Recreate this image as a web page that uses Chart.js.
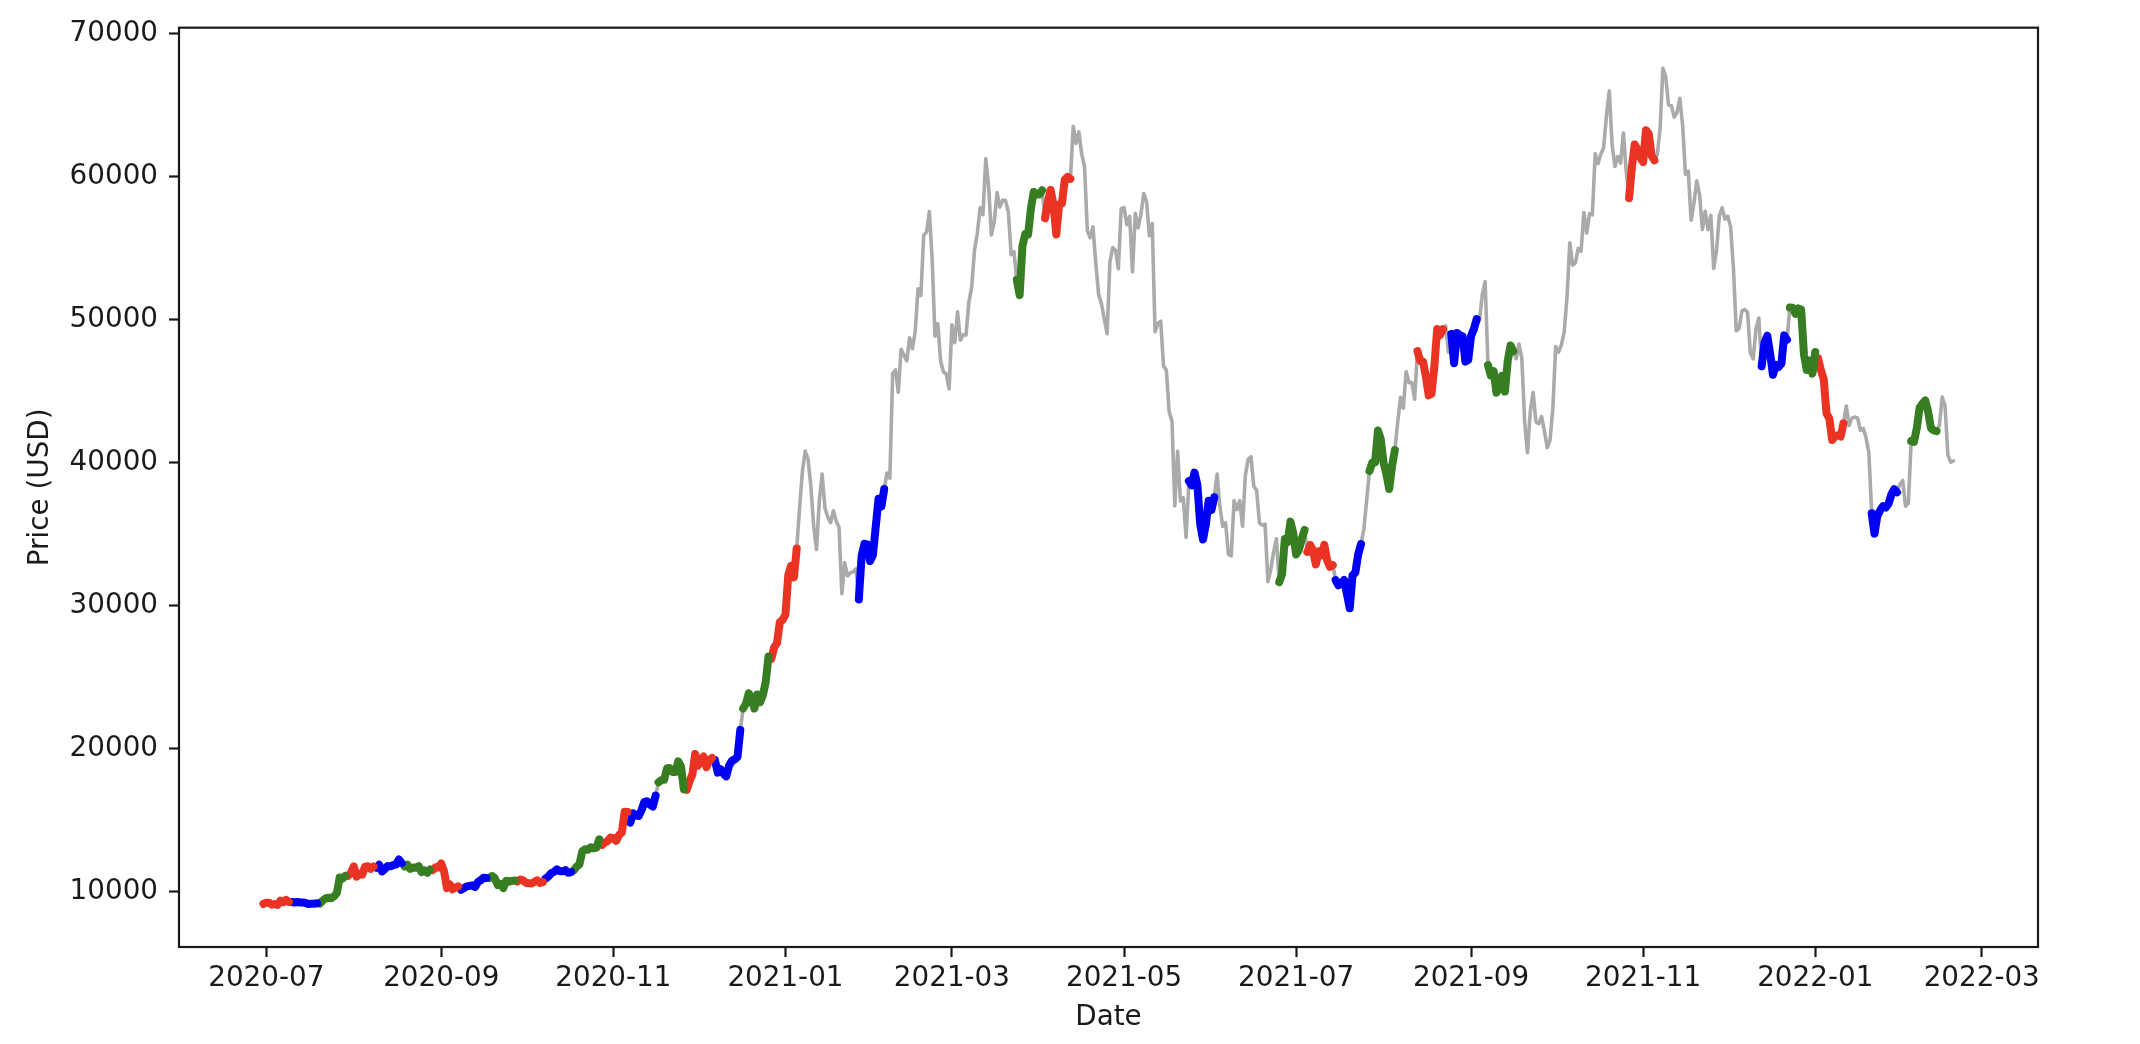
<!DOCTYPE html>
<html>
<head>
<meta charset="utf-8">
<title>Price (USD)</title>
<script src="https://cdn.jsdelivr.net/npm/chart.js@4.4.0/dist/chart.umd.min.js"></script>
<style>
  html, body { margin: 0; padding: 0; background: #fff; }
  #chart { display: block; }
</style>
</head>
<body>
<canvas id="chart" width="2140" height="1044"></canvas>
<script>
// daily closing price, one value per day from startDate
const startDate = '2020-06-30';
const prices = [
  9137,
  // 2020-07
  9228, 9232, 9087, 9132, 9073, 9375, 9252, 9428, 9277, 9278, 9240, 9277, 9243, 9244, 9192, 9132,
  9151, 9159, 9186, 9165, 9375, 9525, 9581, 9536, 9677, 9905, 10991, 10912, 11100, 11112, 11323,
  // 2020-08
  11759, 11053, 11247, 11191, 11747, 11779, 11601, 11754, 11675, 11878, 11410, 11584, 11784, 11768, 11865, 11892,
  12254, 11991, 11758, 11878, 11592, 11681, 11664, 11774, 11366, 11488, 11324, 11542, 11506, 11711, 11680,
  // 2020-09
  11970, 11414, 10246, 10511, 10169, 10280, 10369, 10131, 10242, 10364, 10400, 10442, 10323, 10680, 10796,
  10974, 10948, 10944, 11094, 10938, 10462, 10538, 10246, 10760, 10692, 10750, 10776, 10709, 10844, 10784,
  // 2020-10
  10620, 10585, 10565, 10680, 10797, 10603, 10668, 10916, 11065, 11297, 11385, 11556, 11426, 11429, 11506, 11320,
  11361, 11504, 11751, 11917, 12824, 12965, 12931, 13108, 13031, 13076, 13654, 13271, 13437, 13546, 13781,
  // 2020-11
  13737, 13550, 13950, 14133, 15579, 15565, 14818, 15479, 15332, 15290, 15701, 16276, 16317, 16068, 15955,
  16716, 17645, 17804, 17817, 18621, 18642, 18370, 18364, 19107, 18733, 17150, 17108, 17717, 18177, 19625,
  // 2020-12
  18802, 19201, 19445, 18699, 19154, 19345, 19191, 18321, 18553, 18264, 18058, 18803, 19142, 19246, 19417, 21310,
  22805, 23137, 23869, 23477, 22803, 23783, 23241, 23735, 24664, 26437, 26272, 27084, 27362, 28841, 29002,
  // 2021-01
  29374, 32127, 32782, 31971, 33992, 36824, 39371, 40797, 40254, 38357, 35566, 33923, 37316, 39187, 36825, 36178,
  35792, 36631, 35891, 35468, 30825, 33005, 32067, 32289, 32366, 32569, 30432, 33467, 34316, 34269, 33115,
  // 2021-02
  33537, 35510, 37473, 36926, 38144, 39266, 38903, 46196, 46481, 44919, 47909, 47504, 47105, 48718,
  47945, 49200, 52149, 51679, 55888, 56100, 57539, 54207, 48825, 49705, 47093, 46339, 46188, 45138,
  // 2021-03
  49631, 48378, 50538, 48561, 48927, 48912, 51206, 52246, 54824, 56008, 57805, 57332, 61243, 59302, 55907, 56804,
  58870, 57858, 58346, 58313, 57524, 54529, 54738, 52774, 51704, 55137, 55974, 55947, 57750, 58918, 58730,
  // 2021-04
  58736, 59031, 57077, 58206, 59054, 58021, 55947, 58048, 58102, 59774, 59964, 59835, 63504, 62314, 63114,
  61572, 60684, 56217, 55725, 56473, 53907, 51763, 51094, 50050, 49004, 54022, 55033, 54824, 53556, 57750,
  // 2021-05
  57828, 56632, 57200, 53333, 57424, 56397, 57357, 58803, 58232, 55859, 56704, 49150, 49716, 49880, 46760, 46456,
  43538, 42910, 36964, 40784, 37305, 37536, 34770, 38705, 38402, 39294, 38436, 35697, 34616, 35678, 37333,
  // 2021-06
  36685, 37575, 39188, 36885, 35538, 35796, 33590, 33472, 37345, 36702, 37334, 35552, 39097, 40218, 40406,
  38347, 38053, 35787, 35615, 35698, 31676, 32505, 33723, 34662, 31637, 32187, 34649, 34434, 35867, 35040,
  // 2021-07
  33572, 33897, 34668, 35287, 33746, 34235, 33855, 32877, 33798, 33520, 34240, 33155, 32702, 32822, 31780, 31421,
  31533, 31796, 30817, 29807, 32110, 32313, 33581, 34292, 35350, 37337, 39406, 39995, 40008, 42236, 41626,
  // 2021-08
  39974, 39201, 38152, 39747, 40869, 42816, 44555, 43798, 46365, 45585, 45594, 44429, 47793, 47096, 47048, 45993,
  44696, 44802, 46717, 49339, 48906, 49321, 49546, 47707, 48993, 46942, 49058, 48903, 48830, 47054, 47166,
  // 2021-09
  48848, 49327, 50025, 49944, 51753, 52633, 46811, 46091, 46392, 44883, 45201, 46063, 44963, 47092, 48177,
  47783, 47267, 48279, 47260, 42843, 40694, 43574, 44895, 42840, 42716, 43208, 42236, 41034, 41564, 43791,
  // 2021-10
  48116, 47711, 48200, 49112, 51515, 55361, 53805, 53967, 54968, 54772, 57484, 56041, 57401, 57321, 61593, 60892,
  61553, 62026, 64262, 65992, 62210, 60692, 61393, 60937, 63039, 60363, 58483, 60622, 62228, 61888, 61318,
  // 2021-11
  61004, 63227, 62970, 61453, 61125, 61527, 63327, 67566, 66971, 64995, 64950, 64155, 64470, 65466, 63557,
  60162, 60369, 56943, 58119, 59697, 58730, 56289, 57570, 56280, 57275, 53570, 54816, 57248, 57807, 57005,
  // 2021-12
  57229, 56477, 53598, 49201, 49368, 50582, 50700, 50504, 47672, 47243, 49362, 50098, 46737, 48379, 48864, 47632,
  46131, 46834, 46681, 46914, 48890, 48588, 50838, 50820, 50399, 50775, 50701, 47544, 46465, 47120, 46217,
  // 2022-01
  47722, 47286, 46446, 45832, 43425, 43083, 41572, 41822, 41911, 41821, 42735, 43949, 42591, 43099, 43177, 43113,
  42250, 42375, 41744, 40680, 36458, 35030, 36276, 36654, 36954, 36852, 37138, 37784, 38138, 37917, 38483,
  // 2022-02
  38743, 36952, 37154, 41500, 41441, 42412, 43840, 44118, 44338, 43565, 42407, 42244, 42197, 42586, 44575,
  43961, 40538, 40030, 40122,
];

// highlighted 10-day windows, colours cycle red -> blue -> green
const segLength = 10;
const segStarts = [
  '2020-06-30', '2020-07-10', '2020-07-20', '2020-07-30', '2020-08-09', '2020-08-19',
  '2020-08-29', '2020-09-08', '2020-09-18', '2020-09-28', '2020-10-08', '2020-10-18',
  '2020-10-28', '2020-11-07', '2020-11-17', '2020-11-27', '2020-12-07', '2020-12-17',
  '2020-12-27', '2021-01-27', '2021-03-24', '2021-04-03', '2021-05-24', '2021-06-25',
  '2021-07-05', '2021-07-15', '2021-07-27', '2021-08-13', '2021-08-25', '2021-09-07',
  '2021-10-27', '2021-12-13', '2021-12-23', '2022-01-02', '2022-01-21', '2022-02-04',
];
const segKinds = ['red', 'blue', 'green'];

const xTickLabels = ['2020-07', '2020-09', '2020-11', '2021-01', '2021-03', '2021-05',
                     '2021-07', '2021-09', '2021-11', '2022-01', '2022-03'];
const yTicks = [10000, 20000, 30000, 40000, 50000, 60000, 70000];
const yMin = 6130;
const yMax = 70400;

const COLORS = {
  red:   '#ea3323',
  blue:  '#0000f5',
  green: '#377e22',
  base:  '#aaaaaa',
};
const INK  = '#1a1a1a';
const FONT = { family: 'DejaVu Sans', size: 27.8 };
const DAY  = 86400000;

function toMs(s) {
  const [y, m, d] = s.split('-').map(Number);
  return Date.UTC(y, m - 1, d);
}

const t0 = toMs(startDate);
const points = prices.map((p, i) => ({ x: t0 + i * DAY, y: p }));
const xSpan = (points.length - 1) * DAY;
const xMin = t0 - xSpan * 0.05;
const xMax = t0 + xSpan * 1.05;
const xTickValues = xTickLabels.map((l) => toMs(l + '-01'));

const datasets = [{
  label: 'Price',
  data: points,
  borderColor: COLORS.base,
  borderWidth: 3.6,
  order: 1,
}];

segStarts.forEach((s, k) => {
  const i0 = Math.round((toMs(s) - t0) / DAY);
  datasets.push({
    label: s,
    data: points.slice(i0, i0 + segLength),
    borderColor: COLORS[segKinds[k % 3]],
    borderWidth: 8,
    order: 0,
  });
});

const framePlugin = {
  id: 'frame',
  afterDatasetsDraw(chart) {
    const { ctx, chartArea: a } = chart;
    ctx.save();
    ctx.strokeStyle = INK;
    ctx.lineWidth = 2.2;
    ctx.strokeRect(a.left, a.top, a.right - a.left, a.bottom - a.top);
    ctx.restore();
  },
};

new Chart(document.getElementById('chart'), {
  type: 'line',
  data: { datasets },
  plugins: [framePlugin],
  options: {
    responsive: false,
    animation: false,
    devicePixelRatio: 1,
    layout: { padding: { left: 0, right: 102, top: 23, bottom: 0 } },
    plugins: { legend: { display: false }, tooltip: { enabled: false } },
    elements: {
      point: { radius: 0 },
      line: { tension: 0, borderJoinStyle: 'round', borderCapStyle: 'round' },
    },
    scales: {
      x: {
        type: 'linear',
        min: xMin,
        max: xMax,
        afterBuildTicks: (s) => { s.ticks = xTickValues.map((v) => ({ value: v })); },
        afterFit: (s) => { s.height = 97; },
        ticks: {
          autoSkip: false,
          maxRotation: 0,
          padding: 5,
          color: INK,
          font: FONT,
          callback: (v) => xTickLabels[xTickValues.indexOf(v)],
        },
        grid: { drawOnChartArea: false, tickLength: 10, tickWidth: 2.2, tickColor: INK },
        border: { display: false },
        title: { display: true, text: 'Date', color: INK, font: FONT, padding: { top: 0, bottom: 10 } },
      },
      y: {
        min: yMin,
        max: yMax,
        afterBuildTicks: (s) => { s.ticks = yTicks.map((v) => ({ value: v })); },
        afterFit: (s) => { s.width = 179; },
        ticks: {
          autoSkip: false,
          padding: 11,
          color: INK,
          font: FONT,
          callback: (v) => String(v),
        },
        grid: { drawOnChartArea: false, tickLength: 10, tickWidth: 2.2, tickColor: INK },
        border: { display: false },
        title: { display: true, text: 'Price (USD)', color: INK, font: FONT, padding: { top: 24, bottom: 0 } },
      },
    },
  },
});
</script>
</body>
</html>
